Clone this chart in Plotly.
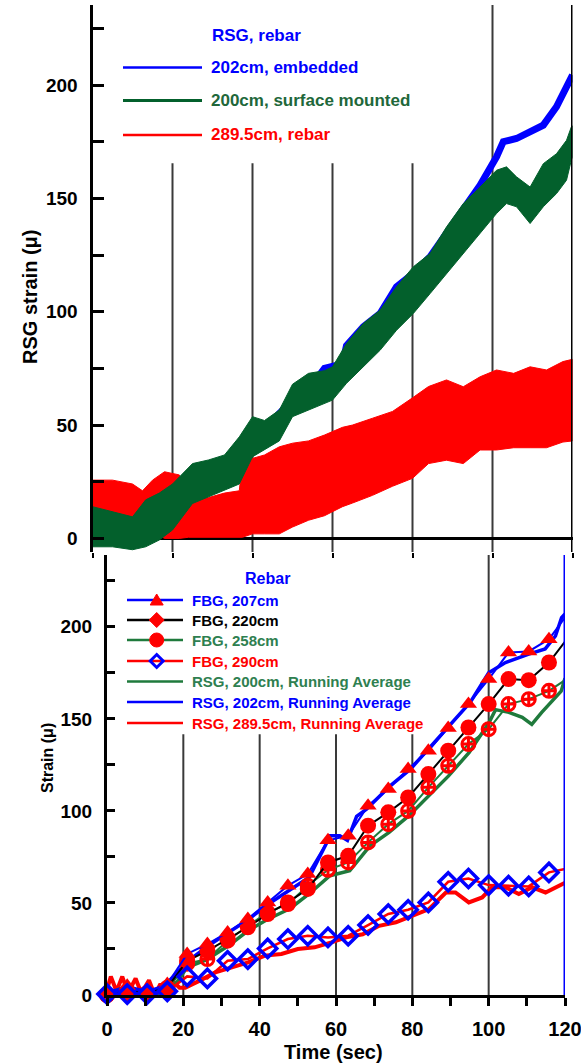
import plotly.graph_objects as go

W, H = 581, 1064
FONT = "Liberation Sans, Arial, Helvetica, sans-serif"
BLUE = "#0000ff"
RED = "#ff0000"
GREEN_TOP = "#03602c"
GREEN = "#1f7a3c"
GRID = "#3a3a3a"

# ---------------- top panel data (RSG, rebar) ----------------
t_green = [0, 5, 10, 13.3, 16.7, 20, 25, 29, 33, 36.7, 40, 43, 46.7, 50, 54, 58, 60,
           63.5, 67.7, 71.9, 76, 80.2, 84.4, 88.5, 92.7, 96.9, 101, 103.5, 106, 109.4,
           112.7, 116, 118.5, 119.7, 120]
green_upper = [14, 11.8, 9.5, 17, 20, 24, 33, 34.6, 36.8, 44.8, 53.7, 52, 56.6, 68, 72.8,
               74, 75.7, 86, 94.8, 100.7, 111, 119.8, 125.7, 137.4, 147.7, 155, 162.4,
               163.9, 159.5, 155, 165.3, 169.7, 175.6, 181.5, 182]
green_lower = [-3.7, -3.7, -5, -3.7, -0.7, 3.7, 15.4, 18.4, 21.3, 24, 36, 39, 43, 53.7,
               56.6, 59.6, 61, 68.4, 75.7, 83, 91.8, 99.2, 108, 116.9, 125.7, 134.5,
               143.3, 147.7, 146.3, 138.9, 146.3, 152.1, 158, 166.8, 168]

t_blue = [0, 5, 10, 15, 18, 20, 25, 30, 35, 37, 40, 45, 50, 55, 58, 62.5, 63.5, 67.7,
          71.9, 76, 80.2, 84.4, 88.5, 92.7, 96.9, 101, 102.7, 106, 109.4, 112.7, 116,
          118.5, 120]
blue_202 = [2, 3, 2, 9, 15, 20, 28, 31, 34, 38, 46, 52, 61, 68, 75, 77, 85, 93.3, 99.2,
            111, 116.9, 124.2, 134.5, 146.3, 155.8, 168.3, 175, 176.4, 179.4, 182.3,
            190.4, 199.2, 204.4]

t_red = [0, 5, 10, 12.5, 15, 18, 21.7, 24, 29, 33, 36.7, 37.5, 40, 43, 46.7, 50, 54, 58,
         62.5, 65, 70, 75, 80, 84, 88.5, 92.7, 96.9, 101, 105.3, 109.4, 113.5, 117.6, 120]
red_upper = [25.7, 25.7, 24, 21, 25.7, 29.4, 28, 18, 18, 20, 21, 34.6, 35.3, 36.8, 40.4,
             42, 43, 45.6, 49, 50, 53, 56, 62, 67, 69.9, 66.9, 71.3, 74.3, 72.8, 75.7,
             74.3, 78, 79]
red_lower = [8, 8, 5, 6, 3, 0, 0, 0.5, 0.5, 0.5, 0.5, 0.5, 2, 2, 2, 5, 8, 10, 14, 15.6,
             19, 23, 26.5, 33, 34.5, 33, 39, 39, 40, 40, 40, 42.5, 43]

# ---------------- bottom panel data ----------------
fbg_t = [0, 5.3, 10.5, 15.8, 21.0, 26.3, 31.6, 36.9, 42.1, 47.4, 52.6, 57.9, 63.2, 68.4,
         73.7, 78.9, 84.2, 89.4, 94.7, 100.0, 105.2, 110.5, 115.8, 120]
fbg_207 = [1, 5, 2, 6, 22.3, 27.7, 34, 41.3, 50.3, 59.4, 65.7, 84, 86.5, 102.8, 111.9,
           122.7, 132.7, 145, 158, 171.6, 186, 186.6, 193.3, 205]
fbg_220 = [0, 2, 1, 4, 18.6, 24, 30.4, 36.8, 44, 50.3, 57.6, 72, 75.6, 92, 99.2, 107.3,
           120, 132.7, 145.3, 158, 171.6, 171, 180.6, 192]
fbg_258 = [0, 1, 1, 3, 17, 19.5, 29.5, 37.6, 44.9, 49.4, 59.4, 68, 72, 82.9, 92.8, 100,
           112.8, 124.5, 136.3, 144.4, 158, 160.7, 165.2, 171]
fbg_290 = [0.5, 0.5, 0.5, 2, 10.1, 9, 18.6, 19.5, 25.3, 30.4, 32.2, 31.3, 32.2, 38, 44,
           46.3, 50.3, 61.5, 63.3, 59.7, 59.4, 59, 66.6, 68.4]

rsg200_t = [0, 3, 6, 9, 12, 15, 18, 21, 26, 32, 37, 42, 48, 53, 58.4, 63.6, 68.9, 73.9,
            79.1, 84.3, 89.5, 94.9, 100.1, 101.8, 105.3, 108.8, 111.3, 113.9, 117.3, 119, 120]
rsg200_avg = [0, 3, 1, 2, 0, 2, 6, 15, 19, 27, 35, 41, 47, 55, 64.8, 67.5, 81, 88.3, 97.4,
              108, 119, 131.8, 148, 155, 153.5, 150.8, 147, 153.5, 161.6, 165, 172]

rsg202_t = [0, 5, 10, 15, 16, 18.5, 21, 26, 32, 37, 42, 48, 53, 58.5, 61, 63, 65.4, 68,
            74.2, 79.5, 84.7, 89.9, 95.2, 100, 104.4, 110.5, 114.8, 117.5, 119.1, 120]
rsg202_avg = [2, 3, 2, 4, 7, 12.3, 18, 26, 34, 41, 49, 57, 64, 86.5, 86.5, 84, 97, 101,
              113.6, 122.7, 134.5, 146.3, 159, 175, 180.6, 185.2, 188, 195, 205, 207]

rsg289_t = [0, 1, 2.5, 4, 5.5, 7.5, 9, 11, 12.5, 14, 15.5, 17, 19, 20.5, 24.3, 28.4, 32.7,
            37, 41.4, 45.7, 50, 54.4, 58.8, 62.7, 67, 71.3, 75.7, 80, 84.4, 88.8, 91.3,
            94.8, 98.3, 100.9, 104.4, 107.9, 111.4, 114.9, 118.4, 120]
rsg289_avg = [3, 10, 2, 10, 1, 9, 1, 8, 0, 6, 1, 8, 4, 4, 7.8, 12.3, 15, 17.7, 21.4, 22.3,
              25, 25.9, 28.6, 31.3, 33, 37.6, 39.5, 43, 46.7, 55.7, 55.7, 50.3, 53, 58.5,
              58.5, 54.8, 58.5, 55.7, 59.4, 61]

x_major = [0, 20, 40, 60, 80, 100, 120]
x_minor_bottom = list(range(0, 121, 10))
y_ticks = list(range(0, 226, 25))
y_labels = [str(v) if v % 50 == 0 else "" for v in y_ticks]
x_labels_bottom = [str(v) if v % 20 == 0 else "" for v in x_minor_bottom]


def px(x):
    return x / W


def py(y):
    return 1 - y / H


fig = go.Figure()

# ---- top panel bands ----
fig.add_trace(go.Scatter(x=t_red + t_red[::-1], y=red_upper + red_lower[::-1], fill="toself",
                         fillcolor=RED, line=dict(color=RED, width=1), mode="lines",
                         xaxis="x", yaxis="y", showlegend=False))
fig.add_trace(go.Scatter(x=t_blue, y=blue_202, mode="lines", line=dict(color=BLUE, width=7),
                         xaxis="x", yaxis="y", showlegend=False))
fig.add_trace(go.Scatter(x=t_green + t_green[::-1], y=green_upper + green_lower[::-1],
                         fill="toself", fillcolor=GREEN_TOP, line=dict(color=GREEN_TOP, width=1),
                         mode="lines", xaxis="x", yaxis="y", showlegend=False))

# ---- bottom panel ----
fig.add_trace(go.Scatter(x=rsg289_t, y=rsg289_avg, mode="lines", line=dict(color=RED, width=4),
                         xaxis="x2", yaxis="y2", showlegend=False))
fig.add_trace(go.Scatter(x=rsg200_t, y=rsg200_avg, mode="lines", line=dict(color=GREEN, width=3.5),
                         xaxis="x2", yaxis="y2", showlegend=False))
fig.add_trace(go.Scatter(x=rsg202_t, y=rsg202_avg, mode="lines", line=dict(color=BLUE, width=3.5),
                         xaxis="x2", yaxis="y2", showlegend=False))

msize = [1] * (len(fbg_t) - 1) + [0]
fig.add_trace(go.Scatter(x=fbg_t, y=fbg_258, mode="lines+markers", line=dict(color=GREEN, width=2),
                         marker=dict(symbol="circle-cross-open", color=RED, opacity=1,
                                     size=[13 * m for m in msize],
                                     line=dict(width=3, color=RED)),
                         xaxis="x2", yaxis="y2", showlegend=False, cliponaxis=False))
fig.add_trace(go.Scatter(x=fbg_t, y=fbg_220, mode="lines+markers", line=dict(color="black", width=2),
                         marker=dict(symbol="circle", color=RED, opacity=1,
                                     size=[16 * m for m in msize], line=dict(width=0)),
                         xaxis="x2", yaxis="y2", showlegend=False, cliponaxis=False))
fig.add_trace(go.Scatter(x=fbg_t, y=fbg_207, mode="lines+markers", line=dict(color=BLUE, width=2),
                         marker=dict(symbol="triangle-up", color=RED, opacity=1,
                                     size=[15 * m for m in msize], line=dict(width=0)),
                         xaxis="x2", yaxis="y2", showlegend=False, cliponaxis=False))
fig.add_trace(go.Scatter(x=fbg_t, y=fbg_290, mode="lines+markers", line=dict(color=RED, width=2.5),
                         marker=dict(symbol="diamond-open", color=BLUE, opacity=1,
                                     size=[14 * m for m in msize],
                                     line=dict(width=3.5, color=BLUE)),
                         xaxis="x2", yaxis="y2", showlegend=False, cliponaxis=False))

tickfont = dict(family=FONT, size=19, color="black", weight="bold")

fig.update_layout(
    width=W, height=H, margin=dict(l=0, r=0, t=0, b=0, autoexpand=False),
    paper_bgcolor="white", plot_bgcolor="white", showlegend=False,
    xaxis=dict(domain=[px(92.5), px(572.5)], range=[0, 120], anchor="y",
               showgrid=False, zeroline=False, showline=False, automargin=False,
               tickvals=x_major, showticklabels=False, ticks="outside", ticklen=5,
               tickwidth=2, tickcolor="black"),
    yaxis=dict(domain=[py(552), py(5)], range=[-6, 235.3], anchor="x", automargin=False,
               showgrid=False, zeroline=True, zerolinecolor="black", zerolinewidth=3,
               showline=True, linecolor="black", linewidth=3,
               tickvals=y_ticks, ticktext=y_labels, ticks="inside", ticklen=11,
               tickwidth=3, tickcolor="black", tickfont=tickfont, ticklabelstandoff=8),
    xaxis2=dict(domain=[px(107), px(565)], range=[0, 120], anchor="y2", automargin=False,
                showgrid=False, zeroline=False, showline=True, linecolor="black", linewidth=3,
                tickvals=x_minor_bottom, ticktext=x_labels_bottom, ticks="outside", ticklen=8,
                tickwidth=2.5, tickcolor="black", ticklabeloverflow="allow",
                tickfont=dict(family=FONT, size=20, color="black", weight="bold"),
                ticklabelstandoff=6),
    yaxis2=dict(domain=[py(995), py(555)], range=[0, 239], anchor="x2", automargin=False,
                showgrid=False, zeroline=False, showline=True, linecolor="black", linewidth=3,
                tickvals=y_ticks, ticktext=y_labels, ticks="inside", ticklen=8,
                tickwidth=2.5, tickcolor="black", tickfont=tickfont, ticklabelstandoff=8),
)

shapes = []
# vertical grid lines, top panel (short ones stop under the legend)
for xv in [20, 40, 60, 80]:
    shapes.append(dict(type="line", xref="x", yref="y", x0=xv, x1=xv, y0=-6, y1=165.5,
                       line=dict(color=GRID, width=2), layer="below"))
shapes.append(dict(type="line", xref="x", yref="y", x0=100, x1=100, y0=-6, y1=235.3,
                   line=dict(color=GRID, width=2), layer="below"))
shapes.append(dict(type="line", xref="x", yref="y", x0=120, x1=120, y0=-6, y1=235.3,
                   line=dict(color="black", width=3), layer="above"))
# vertical grid lines, bottom panel
for xv in [20, 40, 60, 80]:
    shapes.append(dict(type="line", xref="x2", yref="y2", x0=xv, x1=xv, y0=0, y1=141.7,
                       line=dict(color=GRID, width=2), layer="below"))
shapes.append(dict(type="line", xref="x2", yref="y2", x0=100, x1=100, y0=0, y1=239,
                   line=dict(color=GRID, width=2), layer="below"))
shapes.append(dict(type="line", xref="x2", yref="y2", x0=120, x1=120, y0=0, y1=239,
                   line=dict(color=BLUE, width=3), layer="above"))

annotations = []


def text(s, x, y, size, color, xanchor="left", angle=0):
    annotations.append(dict(text=s, x=px(x), y=py(y), xref="paper", yref="paper",
                            xanchor=xanchor, yanchor="middle", showarrow=False,
                            textangle=angle,
                            font=dict(family=FONT, size=size, color=color, weight="bold")))


def lline(x0, x1, y, color, width):
    shapes.append(dict(type="line", xref="paper", yref="paper", x0=px(x0), x1=px(x1),
                       y0=py(y), y1=py(y), line=dict(color=color, width=width)))


# ---- top legend ----
text("RSG, rebar", 210, 35, 17, BLUE)
top_rows = [("202cm, embedded", BLUE, BLUE, 67.5, 2.5),
            ("200cm, surface mounted", "#21673a", GREEN_TOP, 100.5, 3),
            ("289.5cm, rebar", RED, RED, 135, 2.5)]
for label, tcol, lcol, yy, lw in top_rows:
    lline(123, 202, yy, lcol, lw)
    text(label, 209, yy, 17, tcol)

# ---- bottom legend ----
text("Rebar", 267, 578, 16, BLUE, xanchor="center")
bot_rows = [("FBG, 207cm", BLUE, BLUE, 600), ("FBG, 220cm", "black", "black", 620),
            ("FBG, 258cm", "#2e8050", GREEN, 640), ("FBG, 290cm", RED, RED, 661),
            ("RSG, 200cm, Running Average", "#2e8050", GREEN, 681.5),
            ("RSG, 202cm, Running Average", BLUE, BLUE, 702),
            ("RSG, 289.5cm, Running Average", RED, RED, 723)]
for label, tcol, lcol, yy in bot_rows:
    lline(127, 183, yy, lcol, 2.5)
    text(label, 190, yy, 15, tcol)

cx = 156.7


def path(points):
    return "M " + " L ".join(f"{px(a)},{py(b)}" for a, b in points) + " Z"


# triangle (FBG 207)
shapes.append(dict(type="path", xref="paper", yref="paper",
                   path=path([(cx - 6.5, 605), (cx + 6.5, 605), (cx, 594)]),
                   fillcolor=RED, line=dict(color=RED, width=1)))
# diamond (FBG 220)
shapes.append(dict(type="path", xref="paper", yref="paper",
                   path=path([(cx, 612.5), (cx + 7.5, 620), (cx, 627.5), (cx - 7.5, 620)]),
                   fillcolor=RED, line=dict(color=RED, width=1)))
# circle (FBG 258)
shapes.append(dict(type="circle", xref="paper", yref="paper", x0=px(cx - 7), x1=px(cx + 7),
                   y0=py(647), y1=py(633), fillcolor=RED, line=dict(color=RED, width=1)))
# open diamond (FBG 290)
shapes.append(dict(type="path", xref="paper", yref="paper",
                   path=path([(cx, 654.5), (cx + 6.5, 661), (cx, 667.5), (cx - 6.5, 661)]),
                   fillcolor="rgba(0,0,0,0)", line=dict(color=BLUE, width=3)))

# axis titles
text("RSG strain (μ)", 30, 297, 20, "black", xanchor="center", angle=-90)
text("Strain (μ)", 47, 758, 16, "black", xanchor="center", angle=-90)
text("Time (sec)", 333, 1052, 20, "black", xanchor="center")

fig.update_layout(shapes=shapes, annotations=annotations)
fig.write_html("out.html")
